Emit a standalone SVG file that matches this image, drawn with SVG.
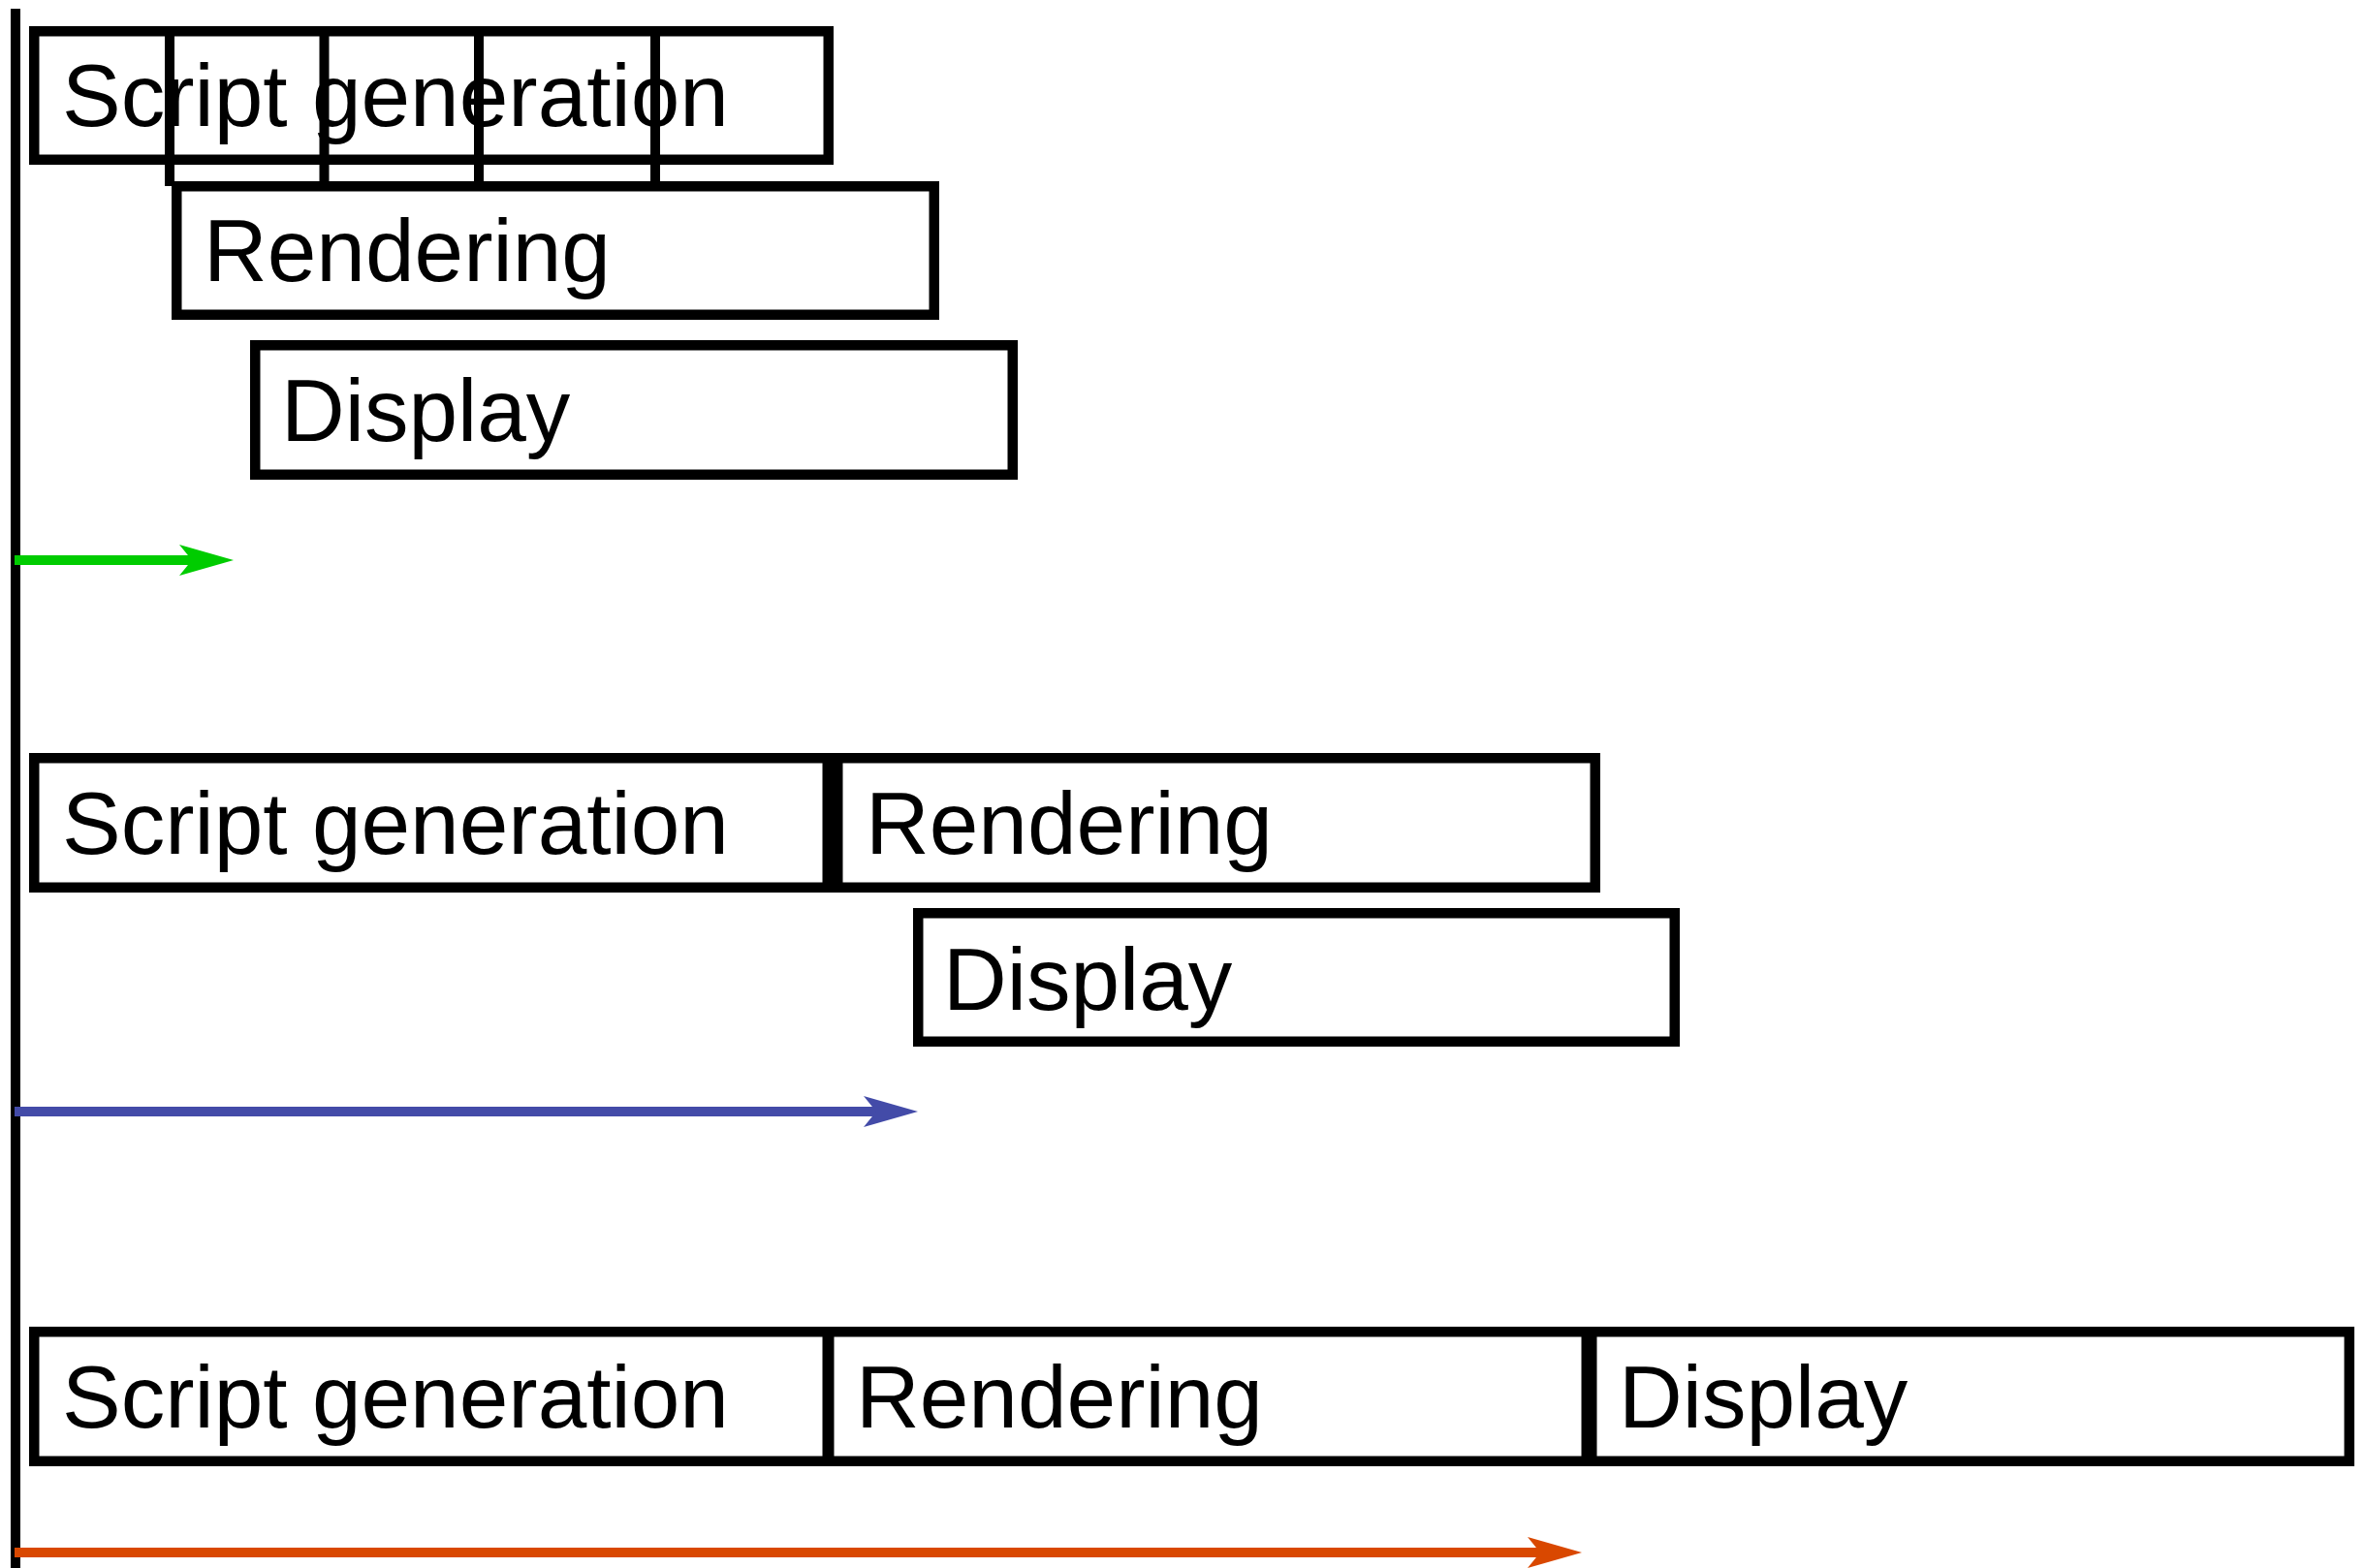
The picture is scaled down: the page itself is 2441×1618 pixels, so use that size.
<svg xmlns="http://www.w3.org/2000/svg" width="2441" height="1618" viewBox="0 0 2441 1618">
<style>
.box{fill:none;stroke:#000;stroke-width:10.5}
.lbl{font-family:"Liberation Sans",Arial,sans-serif;font-size:91px;fill:#000}
.tick{stroke:#000;stroke-width:10}
.axis{stroke:#000;stroke-width:10}
.arr{stroke-width:10;fill:none}
</style>
<defs>
<marker id="hG" markerUnits="userSpaceOnUse" markerWidth="56" markerHeight="32" viewBox="0 0 56 32" refX="13" refY="16" orient="auto"><path d="M0,0 L56,16 L0,32 L13,16 Z" fill="#00cc00"/></marker>
<marker id="hB" markerUnits="userSpaceOnUse" markerWidth="56" markerHeight="32" viewBox="0 0 56 32" refX="13" refY="16" orient="auto"><path d="M0,0 L56,16 L0,32 L13,16 Z" fill="#434ba8"/></marker>
<marker id="hO" markerUnits="userSpaceOnUse" markerWidth="56" markerHeight="32" viewBox="0 0 56 32" refX="13" refY="16" orient="auto"><path d="M0,0 L56,16 L0,32 L13,16 Z" fill="#d94800"/></marker>
</defs>
<rect width="2441" height="1618" fill="#fff"/>
<line class="axis" x1="16" y1="9" x2="16" y2="1618"/>

<g id="top-script"><rect class="box" x="35.25" y="32.25" width="819.5" height="132.5"/><text class="lbl" x="64" y="130">Script generation</text></g>
<g id="top-ticks">
<line class="tick" x1="175" y1="27" x2="175" y2="192"/>
<line class="tick" x1="334.5" y1="27" x2="334.5" y2="187"/>
<line class="tick" x1="494" y1="27" x2="494" y2="187"/>
<line class="tick" x1="676" y1="27" x2="676" y2="187"/>
</g>
<g id="top-rendering"><rect class="box" x="182.25" y="192.25" width="781.5" height="132.5"/><text class="lbl" x="210" y="290">Rendering</text></g>
<g id="top-display"><rect class="box" x="263.25" y="356.25" width="781.5" height="133.5"/><text class="lbl" x="290" y="455">Display</text></g>

<g id="mid-script"><rect class="box" x="35.25" y="782.25" width="818.5" height="133.5"/><text class="lbl" x="64" y="881">Script generation</text></g>
<g id="mid-rendering"><rect class="box" x="864.25" y="782.25" width="781.5" height="133.5"/><text class="lbl" x="893" y="881">Rendering</text></g>
<g id="mid-display"><rect class="box" x="947.25" y="942.25" width="780.5" height="132.5"/><text class="lbl" x="973" y="1042">Display</text></g>

<g id="bot-script"><rect class="box" x="35.25" y="1374.25" width="818.5" height="133.5"/><text class="lbl" x="64" y="1473">Script generation</text></g>
<g id="bot-rendering"><rect class="box" x="855.25" y="1374.25" width="781.5" height="133.5"/><text class="lbl" x="883" y="1473">Rendering</text></g>
<g id="bot-display"><rect class="box" x="1642.25" y="1374.25" width="781.5" height="133.5"/><text class="lbl" x="1670" y="1473">Display</text></g>

<g id="connectors">
<line class="arr" x1="15" y1="578" x2="198" y2="578" stroke="#00cc00" marker-end="url(#hG)"/>
<line class="arr" x1="15" y1="1147" x2="904" y2="1147" stroke="#434ba8" marker-end="url(#hB)"/>
<line class="arr" x1="15" y1="1602" x2="1589" y2="1602" stroke="#d94800" marker-end="url(#hO)"/>
</g>
</svg>
